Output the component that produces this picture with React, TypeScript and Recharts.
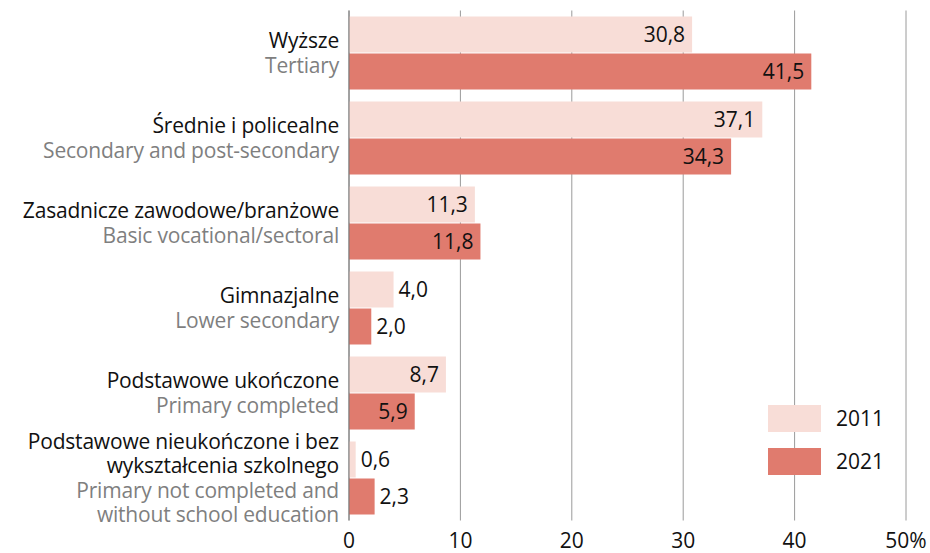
import React from "react";
import { BarChart, Bar, XAxis, YAxis, CartesianGrid, LabelList, Legend } from "recharts";

const categoriesPl: string[][] = [
  ["Wyższe"],
  ["Średnie i policealne"],
  ["Zasadnicze zawodowe/branżowe"],
  ["Gimnazjalne"],
  ["Podstawowe ukończone"],
  ["Podstawowe nieukończone i bez", "wykształcenia szkolnego"],
];
const categoriesEn: string[][] = [
  ["Tertiary"],
  ["Secondary and post-secondary"],
  ["Basic vocational/sectoral"],
  ["Lower secondary"],
  ["Primary completed"],
  ["Primary not completed and", "without school education"],
];
const values2011 = [30.8, 37.1, 11.3, 4.0, 8.7, 0.6];
const values2021 = [41.5, 34.3, 11.8, 2.0, 5.9, 2.3];
const seriesNames = ["2011", "2021"];
const xTicks = [0, 10, 20, 30, 40, 50];

const data = categoriesPl.map((pl, i) => ({
  id: String(i),
  pl,
  en: categoriesEn[i],
  v2011: values2011[i],
  v2021: values2021[i],
}));

const FONT = "'Open Sans', 'Noto Sans', sans-serif";
const FS = 21;
const C2011 = "#f8ddd7";
const C2021 = "#e07b6e";

const fmt = (v: number) => v.toFixed(1).replace(".", ",");

const YTick = (props: any) => {
  const { y, payload } = props;
  const d = data[Number(payload.value)];
  if (!d) return null;
  const lines = [
    ...d.pl.map((t) => ({ t, c: "#111111" })),
    ...d.en.map((t) => ({ t, c: "#7f7f7f" })),
  ];
  const n = lines.length;
  const lh = 24.5;
  return (
    <g>
      {lines.map((l, i) => (
        <text
          key={i}
          x={339}
          y={y + (i - (n - 1) / 2) * lh + 7.5}
          textAnchor="end"
          fill={l.c}
          fontFamily={FONT}
          fontSize={FS}
          letterSpacing={-0.2}
        >
          {l.t}
        </text>
      ))}
    </g>
  );
};

const ValueLabel = (props: any) => {
  const { x, y, width, height, value } = props;
  const inside = value >= 5;
  const tx = inside ? x + width - 7 : x + width + 5;
  return (
    <text
      x={tx}
      y={y + height / 2 + 7.5}
      textAnchor={inside ? "end" : "start"}
      fill="#111111"
      fontFamily={FONT}
      fontSize={FS}
    >
      {fmt(value)}
    </text>
  );
};

const LegendContent = () => {
  const colors = [C2011, C2021];
  return (
    <div style={{ fontFamily: FONT, fontSize: FS, color: "#111111" }}>
      {seriesNames.map((s, i) => (
        <div key={s} style={{ display: "flex", alignItems: "center", height: 27, marginBottom: i === 0 ? 16 : 0 }}>
          <div style={{ width: 53, height: 27, background: colors[i] }} />
          <span style={{ marginLeft: 15, lineHeight: "27px" }}>{s}</span>
        </div>
      ))}
    </div>
  );
};

export default function App() {
  return (
    <div style={{ position: "absolute", left: 0, top: 0, width: 930, height: 553, background: "#fff" }}>
      <BarChart
        width={930}
        height={553}
        data={data}
        layout="vertical"
        margin={{ top: 10.5, right: 24, bottom: 2.5, left: 0 }}
        barSize={36}
        barGap={1}
      >
        <CartesianGrid horizontal={false} vertical={true} stroke="#9a9a9a" />
        <XAxis
          type="number"
          domain={[0, 50]}
          ticks={xTicks}
          axisLine={false}
          tickLine={false}
          tickSize={0}
          tickMargin={13}
          height={30}
          tickFormatter={(v: number) => (v === 50 ? "50%" : String(v))}
          tick={{ fill: "#111111", fontFamily: FONT, fontSize: FS }}
          interval={0}
        />
        <YAxis
          type="category"
          dataKey="id"
          width={349}
          axisLine={{ stroke: "#777777" }}
          tickLine={false}
          tick={<YTick />}
          interval={0}
        />
        <Legend
          layout="vertical"
          align="center"
          verticalAlign="middle"
          content={<LegendContent />}
          wrapperStyle={{ left: 768, top: 405, width: 120 }}
        />
        <Bar dataKey="v2011" name="2011" fill={C2011} isAnimationActive={false}>
          <LabelList dataKey="v2011" content={<ValueLabel />} />
        </Bar>
        <Bar dataKey="v2021" name="2021" fill={C2021} isAnimationActive={false}>
          <LabelList dataKey="v2021" content={<ValueLabel />} />
        </Bar>
      </BarChart>
    </div>
  );
}
